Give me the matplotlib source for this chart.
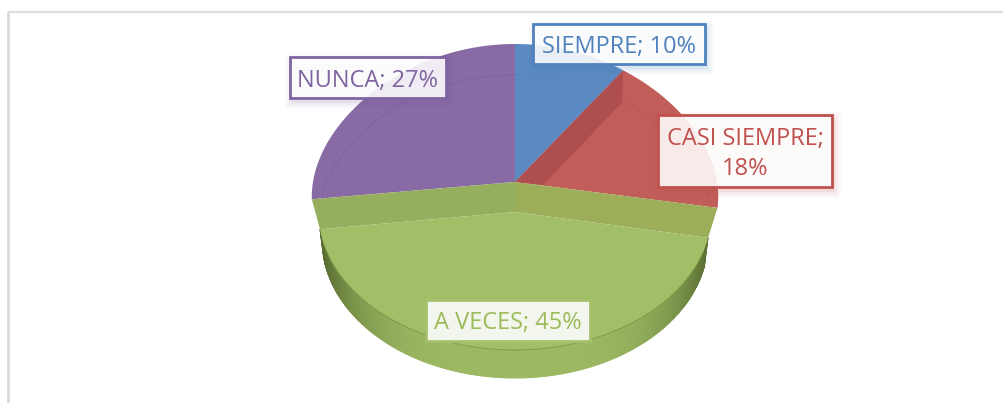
import numpy as np
import matplotlib
matplotlib.use("Agg")
import matplotlib.pyplot as plt
from matplotlib.patches import Polygon, Rectangle
from matplotlib.colors import to_rgb

categories = ["SIEMPRE", "CASI SIEMPRE", "A VECES", "NUNCA"]
values = [10, 18, 45, 27]
label_lines = ["{}; {}%", "{};\n{}%", "{}; {}%", "{}; {}%"]
text_colors = ["#4F81BD", "#C0504D", "#9BBB59", "#8064A2"]
face_colors = ["#5B8AC2", "#C25E5A", "#A2BE67", "#886BA4"]
label_boxes = [(533, 24, 705, 64), (658, 115, 832, 187), (426, 300, 590, 341), (290, 57, 446, 98)]
label_edges = ["#4F81BD", "#C0504D", "#A6C26C", "#8064A2"]

plt.rcParams["font.family"] = ["Open Sans", "DejaVu Sans"]
fig = plt.figure(figsize=(10.04, 4.03), dpi=100)
ax = fig.add_axes([0, 0, 1, 1])
ax.set_xlim(0, 1004)
ax.set_ylim(403, 0)
ax.axis("off")

CX, CY, RX, RY = 515.0, 182.0, 202.0, 138.0
EXPLODE = 30.0

edges = np.cumsum([0] + values) / sum(values) * 2 * np.pi


def rim(theta, cy=CY, rx=RX, ry=RY):
    X, Y = np.sin(theta), np.cos(theta)
    k = 1 - 0.11 * Y
    return np.column_stack([CX + rx * X * k, cy - ry * Y])


def green_rim(theta, cy=CY + EXPLODE, rx=RX * 0.973, ry=RY):
    X, Y = np.sin(theta), np.cos(theta)
    return np.column_stack([CX + rx * X, cy - ry * Y])


def arc(a, b, n=120):
    return np.linspace(a, b, n)


def fill(pts, color, z, alpha=1.0, lw=0.0):
    ax.add_patch(Polygon(pts, closed=True, fc=color, ec=color if lw else "none", lw=lw, zorder=z, alpha=alpha))


# frame
ax.plot([8, 8], [403, 12], color="#D9D9D9", lw=2.0, zorder=0, solid_capstyle="butt")
ax.plot([8, 1004], [12, 12], color="#DEDEDE", lw=1.6, zorder=0, solid_capstyle="butt")

centre = np.array([[CX, CY]])
apex = np.array([[CX, CY + EXPLODE]])

# back slices
fill(np.vstack([centre, rim(arc(edges[3], edges[4]))]), face_colors[3], 2)
fill(np.vstack([centre, rim(arc(edges[0], edges[1]))]), face_colors[0], 2)
fill(np.vstack([centre, rim(arc(edges[1], edges[2]))]), face_colors[1], 2)

# wall of the red slice seen at the blue/red boundary
p = rim(np.array([edges[1]]))[0]
fill([centre[0], p, (p[0] - 1, p[1] + 32), (CX + 28, CY + 3)], "#AE4E4F", 3)

# cut faces of the pulled out green slice
pr = rim(np.array([edges[2]]))[0]
pl = rim(np.array([edges[3]]))[0]
gr = green_rim(np.array([edges[2]]))[0]
gl = green_rim(np.array([edges[3]]))[0]
fill([centre[0], pr, gr, apex[0]], "#9CAE58", 4)
fill([centre[0], pl, gl, apex[0]], "#95AF5E", 4)

# side wall of the green slice: shaded strips
thetas = arc(edges[2], edges[3], 241)
top = green_rim(thetas)
bottom = green_rim(thetas, cy=CY + 58, rx=RX * 0.955)
dark, light = np.array(to_rgb("#56692F")), np.array(to_rgb("#9CB962"))
for i in range(len(thetas) - 1):
    t = min(1.0, abs(np.sin(thetas[i])))
    c = light + (dark - light) * t ** 4
    fill([top[i], top[i + 1], bottom[i + 1], bottom[i]], tuple(c), 5, lw=0.7)

# green top surface
fill(np.vstack([apex, green_rim(arc(edges[2], edges[3]))]), face_colors[2], 6)
ax.plot(*green_rim(arc(edges[2] + 0.1, edges[3] - 0.1)).T, color="#7F9A4A", lw=0.7, zorder=7)


# faint inner ring on the back slices
def ring(a, b):
    return rim(arc(a, b), cy=CY + 18, rx=RX * 0.955, ry=RY * 0.906)


ax.plot(*ring(edges[3] + 0.12, edges[4]).T, color="#7A5E97", lw=0.6, alpha=0.7, zorder=3)
ax.plot(*ring(0, edges[1] * 0.84).T, color="#5480B8", lw=0.6, alpha=0.7, zorder=3)
ax.plot(*ring(edges[1], edges[2] - 0.05).T, color="#B45250", lw=0.6, alpha=0.7, zorder=3)

# labels
for cat, val, fmt, tc, box, ec in zip(categories, values, label_lines, text_colors, label_boxes, label_edges):
    x0, y0, x1, y1 = box
    for grow, a in [(7, 0.03), (5, 0.04), (3, 0.06), (1, 0.08)]:
        ax.add_patch(Rectangle((x0 + 2 - grow, y0 + 4 - grow), x1 - x0 + 2 * grow, y1 - y0 + 2 * grow,
                               fc=ec, ec="none", alpha=a, zorder=8))
    ax.add_patch(Rectangle((x0, y0), x1 - x0, y1 - y0, fc=(1, 1, 1, 0.88), ec=ec, lw=2.0, zorder=9))
    ax.text((x0 + x1) / 2, (y0 + y1) / 2 + 3, fmt.format(cat, val), color=tc, fontsize=17,
            ha="center", va="center", ma="center", linespacing=1.38, zorder=10)

fig.savefig("out.png", dpi=100, facecolor="white")
